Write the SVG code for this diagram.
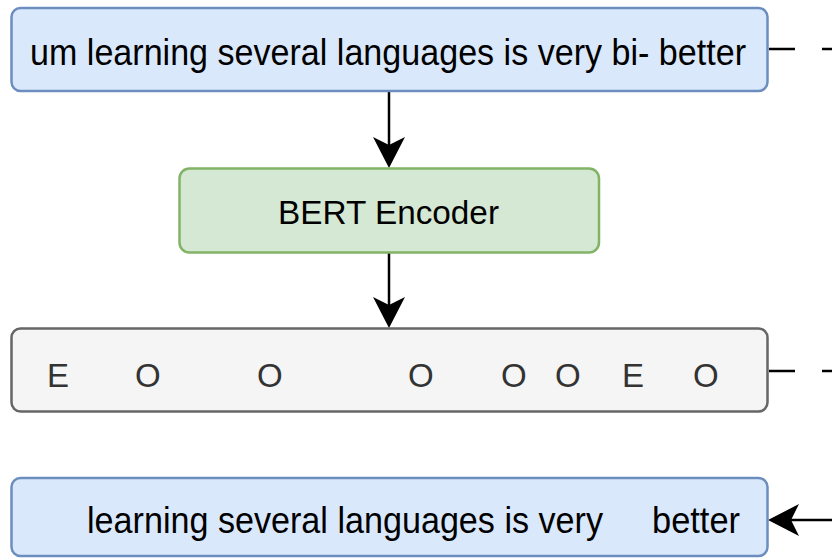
<svg xmlns="http://www.w3.org/2000/svg" width="832" height="558" viewBox="0 0 832 558">
  <style>
    .box { stroke-width: 2.5; }
    .blue { fill: #dae8fc; stroke: #6c8ebf; }
    .green { fill: #d5e8d4; stroke: #82b366; }
    .gray { fill: #f5f5f5; stroke: #666666; }
    .lbl { font-family: "Liberation Sans", Arial, Helvetica, sans-serif; fill: #000000; }
    .tag { font-family: "Liberation Sans", Arial, Helvetica, sans-serif; fill: #333333; font-size: 33px; }
    .edge { stroke: #000000; stroke-width: 2.5; fill: none; }
    .dash { stroke-dasharray: 26 27; }
  </style>
  <defs>
    <marker id="arrow" viewBox="0 0 31 32" refX="8" refY="16" markerWidth="31" markerHeight="32" markerUnits="userSpaceOnUse" orient="auto">
      <path d="M31,16 L0,0 L8,16 L0,32 Z" fill="#000000"/>
    </marker>
  </defs>

  <g id="connectors">
    <line class="edge" x1="389" y1="91" x2="389" y2="145" marker-end="url(#arrow)"/>
    <line class="edge" x1="389" y1="253" x2="389" y2="305" marker-end="url(#arrow)"/>
    <line class="edge dash" x1="769" y1="49" x2="832" y2="49"/>
    <line class="edge dash" x1="769" y1="371" x2="832" y2="371"/>
    <line class="edge" x1="832" y1="520" x2="791" y2="520" marker-end="url(#arrow)"/>
  </g>

  <g id="input-sentence">
    <rect class="box blue" x="11.5" y="8" width="756" height="83" rx="9"/>
    <text class="lbl" x="30" y="65" font-size="36" textLength="716" lengthAdjust="spacingAndGlyphs">um learning several languages is very bi- better</text>
  </g>

  <g id="bert-encoder">
    <rect class="box green" x="179.5" y="168.5" width="419.5" height="84" rx="10"/>
    <text class="lbl" x="278" y="224" font-size="33" textLength="221" lengthAdjust="spacingAndGlyphs">BERT Encoder</text>
  </g>

  <g id="tag-sequence">
    <rect class="box gray" x="11.5" y="328.5" width="756" height="83" rx="9"/>
    <text class="tag" y="387"><tspan x="47">E</tspan><tspan x="135">O</tspan><tspan x="257">O</tspan><tspan x="408">O</tspan><tspan x="501">O</tspan><tspan x="555">O</tspan><tspan x="622">E</tspan><tspan x="693">O</tspan></text>
  </g>

  <g id="output-sentence">
    <rect class="box blue" x="11.5" y="478" width="756" height="78" rx="9"/>
    <text class="lbl" x="87" y="533" font-size="36" textLength="516" lengthAdjust="spacingAndGlyphs">learning several languages is very</text>
    <text class="lbl" x="652" y="533" font-size="36" textLength="88" lengthAdjust="spacingAndGlyphs">better</text>
  </g>
</svg>
